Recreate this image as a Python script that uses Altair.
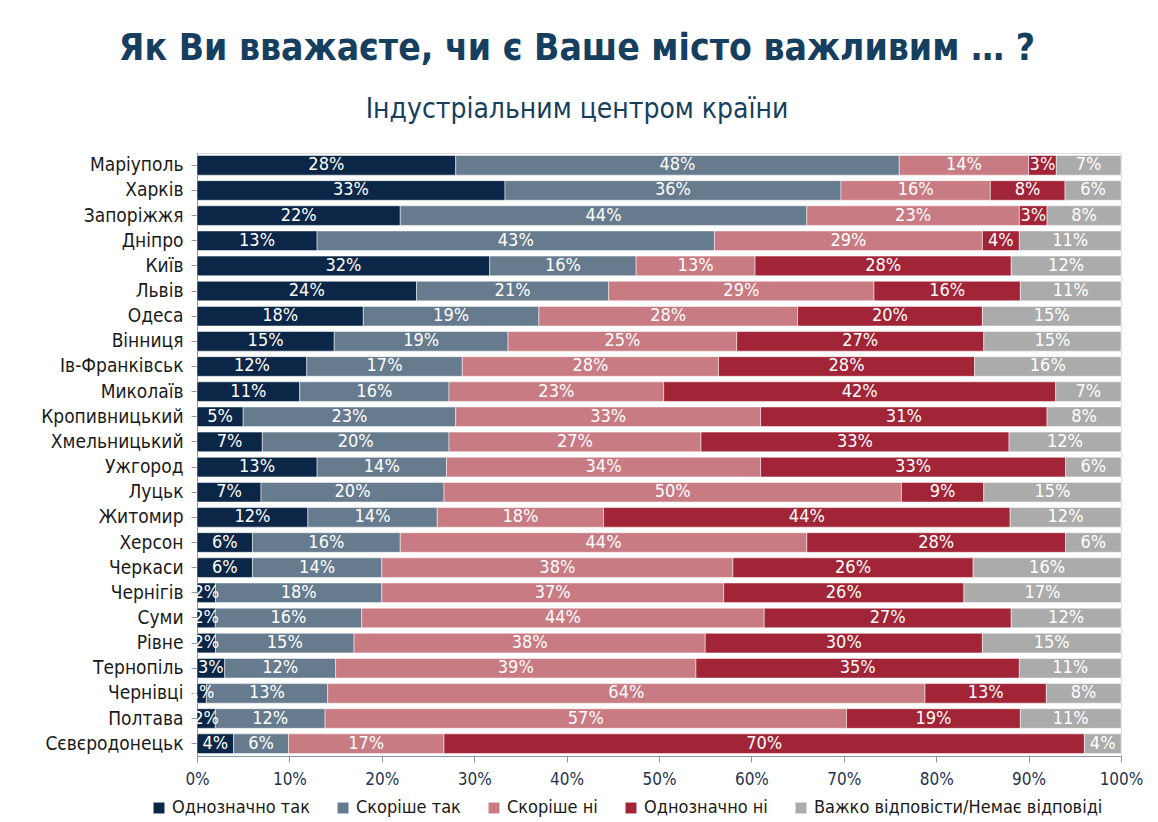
import altair as alt
import pandas as pd

cities = ["Маріуполь", "Харків", "Запоріжжя", "Дніпро", "Київ", "Львів", "Одеса", "Вінниця",
          "Ів-Франківськ", "Миколаїв", "Кропивницький", "Хмельницький", "Ужгород", "Луцьк",
          "Житомир", "Херсон", "Черкаси", "Чернігів", "Суми", "Рівне", "Тернопіль", "Чернівці",
          "Полтава", "Сєвєродонецьк"]
categories = ["Однозначно так", "Скоріше так", "Скоріше ні", "Однозначно ні",
              "Важко відповісти/Немає відповіді"]
colors = ["#0B2647", "#677B8F", "#C97B84", "#A12437", "#ABABAB"]

definitely_yes = [28, 33, 22, 13, 32, 24, 18, 15, 12, 11, 5, 7, 13, 7, 12, 6, 6, 2, 2, 2, 3, 1, 2, 4]
rather_yes     = [48, 36, 44, 43, 16, 21, 19, 19, 17, 16, 23, 20, 14, 20, 14, 16, 14, 18, 16, 15, 12, 13, 12, 6]
rather_no      = [14, 16, 23, 29, 13, 29, 28, 25, 28, 23, 33, 27, 34, 50, 18, 44, 38, 37, 44, 38, 39, 64, 57, 17]
definitely_no  = [3, 8, 3, 4, 28, 16, 20, 27, 28, 42, 31, 33, 33, 9, 44, 28, 26, 26, 27, 30, 35, 13, 19, 70]
hard_to_say    = [7, 6, 8, 11, 12, 11, 15, 15, 16, 7, 8, 12, 6, 15, 12, 6, 16, 17, 12, 15, 11, 8, 11, 4]

series = [definitely_yes, rather_yes, rather_no, definitely_no, hard_to_say]
rows = []
for ci, cat in enumerate(categories):
    for city, v in zip(cities, series[ci]):
        rows.append({"city": city, "cat": cat, "order": ci, "value": v, "label": f"{v}%"})
df = pd.DataFrame(rows)

FONT = "DejaVu Sans Condensed"

base = alt.Chart(df).transform_stack(
    stack="value", groupby=["city"], sort=[alt.SortField("order")],
    as_=["x0", "x1"], offset="normalize"
).transform_calculate(mid="(datum.x0 + datum.x1) / 2")

y_enc = alt.Y("city:N", sort=cities, title=None,
              scale=alt.Scale(paddingInner=0.22, paddingOuter=0.1),
              axis=alt.Axis(labelFont=FONT, labelFontSize=19, labelColor="#1a1a1a",
                            labelPadding=8, tickColor="#8a96a3", domainColor="#8a96a3",
                            tickSize=6, labelLimit=300))

bars = base.mark_bar(stroke="white", strokeWidth=0.5).encode(
    x=alt.X("x0:Q", scale=alt.Scale(domain=[0, 1]), title=None,
            axis=alt.Axis(format=".0%", values=[0, 0.1, 0.2, 0.3, 0.4, 0.5, 0.6, 0.7, 0.8, 0.9, 1.0],
                          labelFont=FONT, labelFontSize=17, labelColor="#1F3550",
                          tickColor="#8a96a3", domainColor="#8a96a3", tickSize=6,
                          grid=False, labelPadding=9, labelFlush=False)),
    x2="x1:Q",
    y=y_enc,
    color=alt.Color("cat:N", sort=categories,
                    scale=alt.Scale(domain=categories, range=colors),
                    legend=alt.Legend(title=None, orient="none", direction="horizontal",
                                      legendX=-47, legendY=646, symbolType="square",
                                      symbolSize=120, symbolStrokeWidth=0,
                                      labelFont=FONT, labelFontSize=18, labelColor="#1a1a1a",
                                      columnPadding=24, labelOffset=4, labelLimit=500)),
    order=alt.Order("order:Q"),
)

texts = base.mark_text(color="white", font=FONT, fontSize=18).encode(
    x=alt.X("mid:Q"),
    y=alt.Y("city:N", sort=cities),
    text="label:N",
)

chart = (bars + texts).properties(
    width=924, height=603,
    title=alt.TitleParams(
        text="Як Ви вважаєте, чи є Ваше місто важливим … ?",
        subtitle="Індустріальним центром країни",
        font=FONT, fontSize=37, fontWeight="bold", color="#163F5F",
        subtitleFont=FONT, subtitleFontSize=28, subtitleColor="#163F5F",
        subtitlePadding=28, anchor="middle", dx=-82, offset=28,
    ),
    padding={"left": 197, "top": 153, "right": 37, "bottom": 66},
    autosize=alt.AutoSizeParams(type="none"),
).configure_view(stroke=None).configure(background="white")

chart.save("out.html", embed_options={"renderer": "svg", "actions": False})
